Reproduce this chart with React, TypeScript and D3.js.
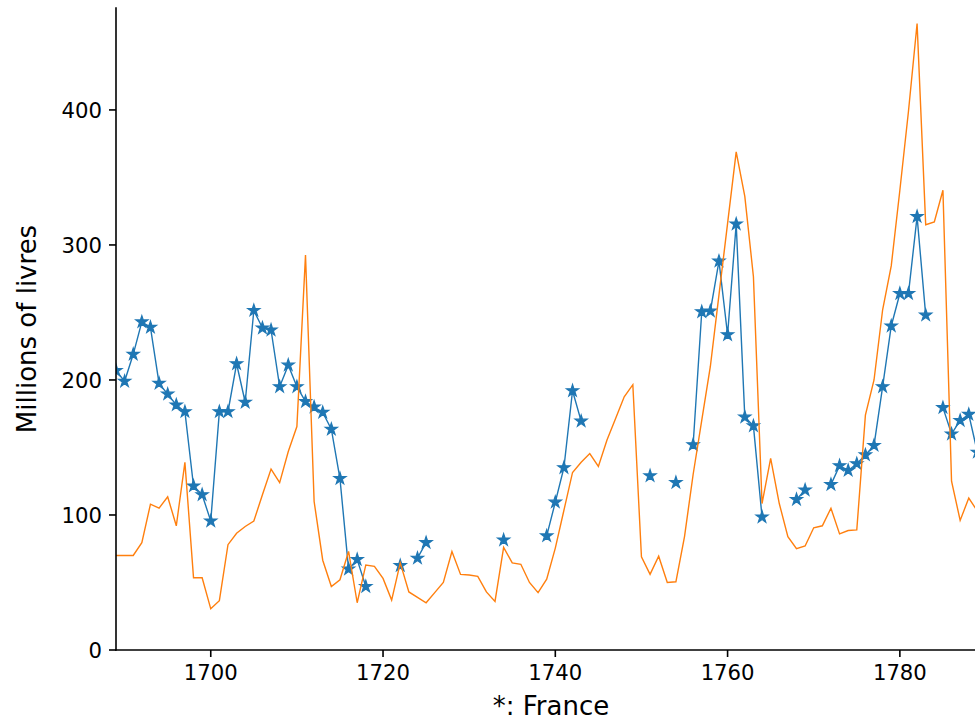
import { useMemo } from "react";
import * as d3 from "d3";

// years on the x axis
const years = d3.range(1689, 1790);

// France (blue stars), gaps where no value was recorded
const france: (number | null)[] = [
  207, 199, 219, 243, 239, 197.5, 189.5, 181.5, 176.5, 121.5,
  115, 95.5, 176.5, 176.5, 212, 183.5, 251.5, 238.5, 237, 195,
  211, 195, 184, 180, 176, 163.5, 127, 60, 67, 47,
  null, null, null, 62.5, null, 68, 79.5, null, null, null,
  null, null, null, null, null, 81.5, null, null, null, null,
  84.5, 109.5, 135, 192, 169.5, null, null, null, null, null,
  null, null, 129, null, null, 124, null, 152, 250.5, 251,
  288, 233.5, 315.5, 172.5, 166, 98.5, null, null, null, 111.5,
  118.5, null, null, 122.5, 136.5, 133, 138, 144.5, 151.5, 195,
  240, 264, 264, 321, 248, null, 179.5, 160, 170, 174.5,
  146.5,
];

// England (orange line)
const england: number[] = [
  70, 70, 70, 79.5, 108, 105, 113.5, 92, 139, 53.5,
  53.5, 30.5, 36.5, 78, 86.5, 91.5, 95.5, 115, 134, 124,
  147, 165.5, 292.5, 110, 66.5, 47, 52, 73, 35, 63,
  62, 53, 37, 64.5, 43, 39, 35, 42.5, 50, 73,
  56, 55.5, 54.5, 43, 36, 76, 64.5, 63.5, 50, 42.5,
  52.5, 75.5, 103.5, 131.5, 139, 145.5, 136, 155.5, 171.5, 187.5,
  196.5, 69, 56, 69.5, 50, 50.5, 84, 130, 170, 210,
  263, 316, 369, 336, 276.5, 108.5, 142, 108.5, 84, 75,
  77, 90.5, 92, 105, 86, 88.5, 89, 174, 200, 252,
  284.5, 340.5, 399, 464, 315, 317, 340.5, 125, 96, 112.5,
  103,
];

const xTicks = [1700, 1720, 1740, 1760, 1780];
const yTicks = [0, 100, 200, 300, 400];

const W = 975;
const H = 721;
const left = 116;
const right = 986;
const top = 8;
const bottom = 650;
const font = "DejaVu Sans, sans-serif";
const tickFs = 21.2;
const labelFs = 26;

export default function App() {
  const x = d3.scaleLinear().domain([1689, 1790]).range([left, right]);
  const y = d3.scaleLinear().domain([0, 475.5]).range([bottom, top]);

  const paths = useMemo(() => {
    const line = d3
      .line<[number, number | null]>()
      .defined((d) => d[1] != null)
      .x((d) => x(d[0]))
      .y((d) => y(d[1] as number));
    return {
      fr: line(years.map((yr, i) => [yr, france[i]])) ?? "",
      en: line(years.map((yr, i) => [yr, england[i]])) ?? "",
    };
  }, []);

  const r = 6.3;
  const star = d3.symbol().type(d3.symbolStar).size((r * r) / 0.8908130915292852)() ?? "";

  return (
    <svg
      width={W}
      height={H}
      style={{ position: "absolute", left: 0, top: 0, background: "#fff" }}
    >
      <defs>
        <clipPath id="plot">
          <rect x={left} y={top} width={right - left} height={bottom - top} />
        </clipPath>
      </defs>
      <g clipPath="url(#plot)">
        <path d={paths.fr} fill="none" stroke="#1f77b4" strokeWidth={1.4} />
        {years.map((yr, i) =>
          france[i] == null ? null : (
            <path
              key={yr}
              d={star}
              transform={`translate(${x(yr)},${y(france[i] as number)})`}
              fill="#1f77b4"
              stroke="#1f77b4"
              strokeWidth={1.2}
            />
          )
        )}
        <path d={paths.en} fill="none" stroke="#ff7f0e" strokeWidth={1.4} />
      </g>

      {/* spines */}
      <line x1={left} x2={left} y1={top} y2={bottom} stroke="#000" strokeWidth={1.6} strokeLinecap="square" />
      <line x1={left} x2={right} y1={bottom} y2={bottom} stroke="#000" strokeWidth={1.6} strokeLinecap="square" />

      {xTicks.map((t) => (
        <g key={t} transform={`translate(${x(t)},${bottom})`}>
          <line y2={7} stroke="#000" strokeWidth={1.6} />
          <text y={30} textAnchor="middle" fontFamily={font} fontSize={tickFs} fill="#000">
            {t}
          </text>
        </g>
      ))}
      {yTicks.map((t) => (
        <g key={t} transform={`translate(${left},${y(t)})`}>
          <line x2={-7} stroke="#000" strokeWidth={1.6} />
          <text x={-14} y={7.6} textAnchor="end" fontFamily={font} fontSize={tickFs} fill="#000">
            {t}
          </text>
        </g>
      ))}

      <text x={(left + right) / 2} y={715} textAnchor="middle" fontFamily={font} fontSize={labelFs} fill="#000">
        *: France
      </text>
      <text
        transform={`translate(36,${(top + bottom) / 2}) rotate(-90)`}
        textAnchor="middle"
        fontFamily={font}
        fontSize={labelFs}
        fill="#000"
      >
        Millions of livres
      </text>
    </svg>
  );
}
